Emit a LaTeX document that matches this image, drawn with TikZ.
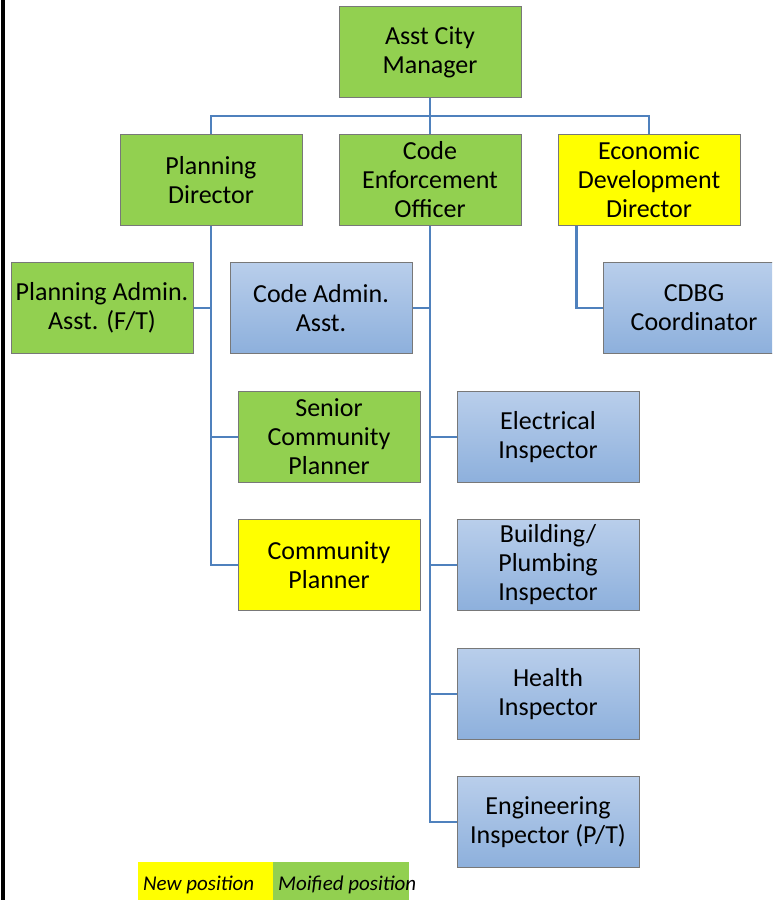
\documentclass[tikz,border=0pt]{standalone}
\usepackage{fontspec}
\setmainfont{Carlito}
\usetikzlibrary{calc}
\definecolor{boxgreen}{RGB}{146,208,80}
\definecolor{boxyellow}{RGB}{255,255,0}
\definecolor{bluetop}{RGB}{185,206,235}
\definecolor{bluebot}{RGB}{141,176,220}
\definecolor{edge}{RGB}{120,120,120}
\definecolor{linkblue}{RGB}{79,129,189}
\tikzset{
  orgbox/.style={draw=edge, line width=1pt, rectangle, minimum width=182pt,
    minimum height=91pt, inner sep=0pt, align=center,
    font=\fontsize{26}{29}\selectfont},
  greenbox/.style={orgbox, fill=boxgreen},
  yellowbox/.style={orgbox, fill=boxyellow},
  bluebox/.style={orgbox, top color=bluetop, bottom color=bluebot},
  link/.style={draw=linkblue, line width=2.2pt},
  legend/.style={rectangle, minimum height=38pt, inner sep=0pt, anchor=north west},
  legendtext/.style={anchor=west, inner sep=0pt, font=\fontsize{21}{25}\selectfont\itshape}
}
\begin{document}
\begin{tikzpicture}[x=1pt,y=-1pt]
  \useasboundingbox (0,0) rectangle (772,900);
  \clip (0,0) rectangle (772,900);
  \fill[white] (0,0) rectangle (772,900);

  % page rule on the left
  \fill[black] (1,0) rectangle (5,900);

  % top level
  \node[greenbox] (acm) at (430,52) {Asst City\\Manager};

  % directors
  \node[greenbox]  (pd)  at (211,180) {Planning\\Director};
  \node[greenbox]  (ceo) at (430,180) {Code\\Enforcement\\Officer};
  \node[yellowbox] (edd) at (649,180) {Economic\\Development\\Director};

  % planning staff
  \node[greenbox]  (paa) at (102,308) {Planning Admin.\\Asst. (F/T)};
  \node[greenbox]  (scp) at (329,437) {Senior\\Community\\Planner};
  \node[yellowbox] (cp)  at (329,565) {Community\\Planner};

  % code enforcement staff
  \node[bluebox] (cadm) at (321,308) {Code Admin.\\Asst.};
  \node[bluebox] (elec) at (548,437) {Electrical\\Inspector};
  \node[bluebox] (bldg) at (548,565) {Building/\\Plumbing\\Inspector};
  \node[bluebox] (hlth) at (548,694) {Health\\Inspector};
  \node[bluebox] (eng)  at (548,822) {Engineering\\Inspector (P/T)};

  % economic development staff
  \node[bluebox] (cdbg) at (694,308) {CDBG\\Coordinator};

  % connectors from the top
  \coordinate (bus) at ($(acm.south)+(0,18)$);
  \draw[link] (acm.south) -- (bus);
  \draw[link] (bus) -| (pd.north);
  \draw[link] (bus) -| (edd.north);
  \draw[link] (bus) -- (ceo.north);

  % planning branch
  \draw[link] (pd.south) |- (cp.west);
  \draw[link] (pd.south |- paa.east) -- (paa.east);
  \draw[link] (pd.south |- scp.west) -- (scp.west);

  % code enforcement branch
  \draw[link] (ceo.south) |- (eng.west);
  \draw[link] (ceo.south |- cadm.east) -- (cadm.east);
  \draw[link] (ceo.south |- elec.west) -- (elec.west);
  \draw[link] (ceo.south |- bldg.west) -- (bldg.west);
  \draw[link] (ceo.south |- hlth.west) -- (hlth.west);

  % economic development branch
  \coordinate (eddfoot) at ($(edd.south west)+(19,0)$);
  \draw[link] (eddfoot) |- (cdbg.west);

  % legend
  \node[legend, fill=boxyellow, minimum width=135pt] (lnew) at (138,862) {};
  \node[legend, fill=boxgreen, minimum width=136pt] (lmod) at (273,862) {};
  \node[legendtext] (tnew) at (143,885) {New position};
  \node[legendtext] (tmod) at (278,885) {Moified position};
\end{tikzpicture}
\end{document}
